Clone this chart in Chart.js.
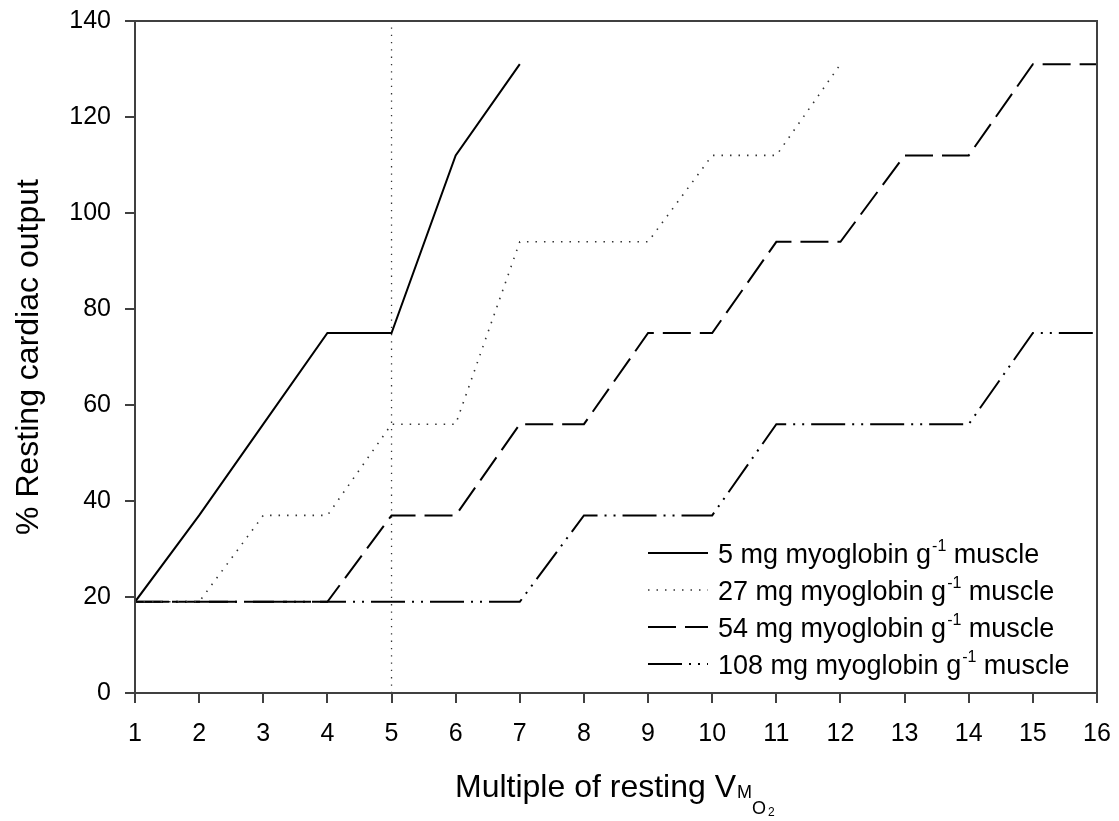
<!DOCTYPE html>
<html>
<head>
<meta charset="utf-8">
<script src="https://cdn.jsdelivr.net/npm/chart.js@4"></script>
<style>
  html, body { margin: 0; padding: 0; background: #fff; }
  #wrap { width: 1119px; height: 821px; position: relative; }
</style>
</head>
<body>
<div id="wrap"><canvas id="chart" width="1119" height="821"></canvas></div>
<script>
// multiples of resting VMO2
const xValues = [1, 2, 3, 4, 5, 6, 7, 8, 9, 10, 11, 12, 13, 14, 15, 16]
const mgValues = [5, 27, 54, 108]
// % resting cardiac output per myoglobin level
const mg5 = [19, 37, 56, 75, 75, 112, 131]
const mg27 = [19, 19, 37, 37, 56, 56, 94, 94, 94, 112, 112, 131]
const mg54 = [19, 19, 19, 19, 37, 37, 56, 56, 75, 75, 94, 94, 112, 112, 131, 131]
const mg108 = [19, 19, 19, 19, 19, 19, 19, 37, 37, 37, 56, 56, 56, 56, 75, 75]
// reference line at 5x resting
const refLineX = [5, 5]
const refLineY = [0, 140]
const yTicks = [0, 20, 40, 60, 80, 100, 120, 140]

const FONT = '"Liberation Sans", Arial, Helvetica, sans-serif'
const AXIS = '#404040'

const toPoints = (xs, ys) => ys.map((y, i) => ({x: xs[i], y: y}))

const dashes = [
    [],
    [1.5, 7],
    [28, 9],
    [34, 7, 2, 7, 2, 7]
]
const seriesList = [mg5, mg27, mg54, mg108]

const datasets = seriesList.map((ys, i) => ({
    label: `${mgValues[i]} mg myoglobin g\u207B\u00B9 muscle`,
    data: toPoints(xValues, ys),
    borderColor: i == 1 ? '#333' : '#000',
    borderWidth: i == 1 ? 1.6 : 2,
    borderDash: dashes[i],
    pointRadius: 0,
    showLine: true,
    fill: false,
    tension: 0
}))
datasets.push({
    label: 'ref',
    data: toPoints(refLineX, refLineY),
    borderColor: '#333',
    borderWidth: 1.3,
    borderDash: [1.3, 6],
    pointRadius: 0,
    showLine: true,
    fill: false
})

// box around the plot area
const framePlugin = {
    id: 'frame',
    afterDraw(chart) {
        const {ctx, chartArea: a} = chart
        ctx.save()
        ctx.strokeStyle = AXIS
        ctx.lineWidth = 2
        ctx.strokeRect(a.left, a.top, a.right - a.left, a.bottom - a.top)
        ctx.restore()
    }
}

// legend with superscripts, drawn inside the plot
const legendPlugin = {
    id: 'supLegend',
    afterDraw(chart) {
        const {ctx, chartArea: a} = chart
        const x0 = a.left + 513
        ctx.save()
        for (let i = 0; i < mgValues.length; ++i) {
            const ds = chart.data.datasets[i]
            const y = a.bottom - 140 + i * 37
            ctx.strokeStyle = ds.borderColor
            ctx.lineWidth = ds.borderWidth
            ctx.setLineDash(ds.borderDash)
            ctx.beginPath()
            ctx.moveTo(x0, y)
            ctx.lineTo(x0 + 60, y)
            ctx.stroke()
            ctx.setLineDash([])

            ctx.fillStyle = '#000'
            ctx.textBaseline = 'alphabetic'
            ctx.textAlign = 'left'
            let tx = x0 + 70
            const base = y + 10
            ctx.font = `27px ${FONT}`
            const part1 = `${mgValues[i]} mg myoglobin g`
            ctx.fillText(part1, tx, base)
            tx += ctx.measureText(part1).width + 1
            ctx.font = `16px ${FONT}`
            ctx.fillText('-1', tx, base - 12)
            tx += ctx.measureText('-1').width
            ctx.font = `27px ${FONT}`
            ctx.fillText(' muscle', tx, base)
        }
        ctx.restore()
    }
}

// axis titles (x title has subscripts)
const titlePlugin = {
    id: 'titles',
    afterDraw(chart) {
        const {ctx, chartArea: a} = chart
        ctx.save()
        ctx.fillStyle = '#000'
        ctx.textBaseline = 'alphabetic'
        ctx.textAlign = 'left'

        let tx = 455
        const base = a.bottom + 104
        ctx.font = `32px ${FONT}`
        const main = 'Multiple of resting V'
        ctx.fillText(main, tx, base)
        tx += ctx.measureText(main).width + 1
        ctx.font = `18px ${FONT}`
        ctx.fillText('M', tx, base + 1)
        tx += ctx.measureText('M').width
        ctx.fillText('O', tx, base + 17)
        tx += ctx.measureText('O').width + 2
        ctx.font = `12px ${FONT}`
        ctx.fillText('2', tx, base + 19)

        ctx.translate(38, (a.top + a.bottom) / 2)
        ctx.rotate(-Math.PI / 2)
        ctx.textAlign = 'center'
        ctx.font = `32px ${FONT}`
        ctx.fillText('% Resting cardiac output', 0, 0)
        ctx.restore()
    }
}

const ctx = document.getElementById('chart').getContext('2d')
const myChart = new Chart(ctx, {
    type: 'scatter',
    data: { datasets: datasets },
    options: {
        responsive: false,
        animation: false,
        layout: { padding: { top: 21, right: 22, left: 0, bottom: 0 } },
        plugins: {
            legend: { display: false },
            tooltip: { enabled: false }
        },
        scales: {
            x: {
                type: 'linear',
                min: xValues[0],
                max: xValues[xValues.length - 1],
                afterFit: (scale) => {
                    scale.height = 128
                    scale.paddingLeft = 0
                    scale.paddingRight = 0
                },
                afterBuildTicks: (scale) => { scale.ticks = xValues.map(v => ({value: v})) },
                ticks: { color: '#000', font: { family: FONT, size: 25 }, padding: 16, maxRotation: 0, autoSkip: false },
                grid: { drawOnChartArea: false, drawTicks: true, tickLength: 10, color: AXIS, lineWidth: 2 },
                border: { display: true, color: AXIS, width: 2 }
            },
            y: {
                min: yTicks[0],
                max: yTicks[yTicks.length - 1],
                afterFit: (scale) => {
                    scale.width = 135
                    scale.paddingTop = 0
                    scale.paddingBottom = 0
                },
                afterBuildTicks: (scale) => { scale.ticks = yTicks.map(v => ({value: v})) },
                ticks: { color: '#000', font: { family: FONT, size: 25 }, padding: 14 },
                grid: { drawOnChartArea: false, drawTicks: true, tickLength: 10, color: AXIS, lineWidth: 2 },
                border: { display: true, color: AXIS, width: 2 }
            }
        }
    },
    plugins: [framePlugin, legendPlugin, titlePlugin]
})
</script>
</body>
</html>
